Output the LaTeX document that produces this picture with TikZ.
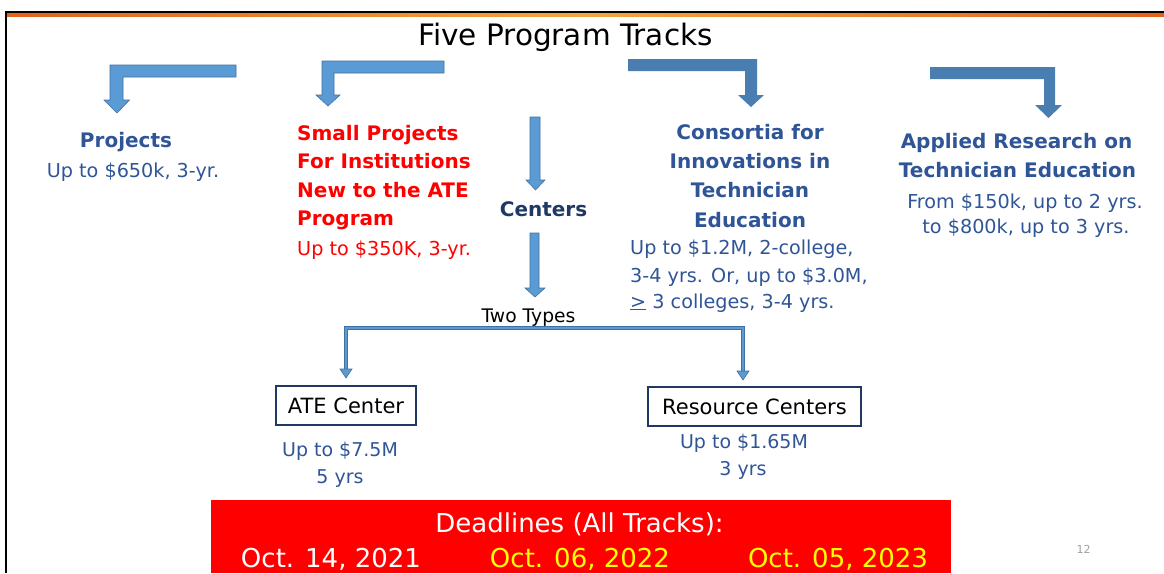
\documentclass[tikz,border=0pt]{standalone}
\usepackage{fontspec}
\setmainfont{DejaVu Sans}
\definecolor{hdrblue}{HTML}{2F5597}
\definecolor{detblue}{HTML}{2F5597}
\definecolor{centerblue}{HTML}{1F3864}
\definecolor{arrowlight}{HTML}{5B9BD5}
\definecolor{arrowedge}{HTML}{41719C}
\definecolor{arrowdark}{HTML}{4A7EB0}
\definecolor{boxline}{HTML}{1F3864}
\definecolor{alertred}{HTML}{FF0000}
\definecolor{dateyellow}{HTML}{FFFF00}
\definecolor{rulered}{HTML}{E2621B}
\definecolor{ruleglow}{HTML}{F4A640}
\definecolor{pagegray}{HTML}{A0A0A0}
\tikzset{
  lbl/.style={inner sep=0pt, anchor=base},
  titletext/.style={lbl, font=\fontsize{29.5}{34}\selectfont, text=black},
  hdr/.style={lbl, font=\bfseries\fontsize{20}{24}\selectfont, text=hdrblue},
  det/.style={lbl, font=\fontsize{19.2}{23}\selectfont, text=detblue},
  sub/.style={lbl, font=\fontsize{19}{23}\selectfont, text=detblue},
  boxed/.style={draw=boxline, line width=2pt, inner sep=0pt, fill=white,
                font=\fontsize{21}{25}\selectfont, text=black},
  lightarrow/.style={fill=arrowlight, draw=arrowedge, line width=0.6pt, line join=miter},
  darkarrow/.style={fill=arrowdark},
  brk/.style={draw=arrowedge, line width=0.8pt, double=arrowlight, double distance=2.6pt},
  brkhead/.style={fill=arrowlight, draw=arrowedge, line width=0.6pt},
  datetext/.style={lbl, font=\fontsize{26}{30}\selectfont}
}
\begin{document}
\begin{tikzpicture}[x=1pt,y=-1pt]
\useasboundingbox (0,0) rectangle (1164,573);
\fill[white] (0,0) rectangle (1164,573);

% slide frame: top rule with orange band, left edge
\fill[black] (5,11) rectangle (1164,13.3);
\shade[left color=rulered, right color=rulered, middle color=ruleglow] (5,13.5) rectangle (1164,16.8);
\fill[black] (4.5,11) rectangle (7,573);

% title
\node[titletext] (title) at (565.5,45) {Five Program Tracks};

% bent block arrows from the title to each track
\draw[lightarrow] (236,65) -- (110,65) -- (110,100) -- (104,100) -- (117,113)
  -- (129.5,100) -- (123,100) -- (123,77) -- (236,77) -- cycle;
\draw[lightarrow] (444,61) -- (322,61) -- (322,95) -- (316,95) -- (328,106)
  -- (340,95) -- (334,95) -- (334,73) -- (444,73) -- cycle;
\fill[darkarrow] (628,59) -- (757,59) -- (757,95) -- (764,95) -- (751,107)
  -- (738,95) -- (745,95) -- (745,71) -- (628,71) -- cycle;
\fill[darkarrow] (930,67) -- (1055,67) -- (1055,105) -- (1062,105) -- (1048.5,118)
  -- (1035,105) -- (1044,105) -- (1044,79) -- (930,79) -- cycle;

% down arrows around "Centers"
\draw[lightarrow] (530,117) -- (540,117) -- (540,180) -- (545,180) -- (535.5,190)
  -- (526,180) -- (530,180) -- cycle;
\draw[lightarrow] (530,233) -- (539,233) -- (539,288) -- (545,288) -- (535,297)
  -- (525,288) -- (530,288) -- cycle;

% Projects
\node[hdr] (proj) at (126,147) {Projects};
\node[det] (projd) at (133,177) {Up to \$650k, 3-yr.};

% Small Projects for Institutions New to the ATE Program
\node[hdr, text=alertred, anchor=base west] (sp1) at (297,140) {Small Projects};
\node[hdr, text=alertred, anchor=base west] (sp2) at (297,168.5) {For Institutions};
\node[hdr, text=alertred, anchor=base west] (sp3) at (297,197) {New to the ATE};
\node[hdr, text=alertred, anchor=base west] (sp4) at (297,225.5) {Program};
\node[det, text=alertred, anchor=base west] (spd) at (297,255) {Up to \$350K, 3-yr.};

% Centers
\node[hdr, text=centerblue] (centers) at (543.5,216) {Centers};

% Consortia
\node[hdr] (co1) at (750,139) {Consortia for};
\node[hdr] (co2) at (750,168) {Innovations in};
\node[hdr] (co3) at (750,197.5) {Technician};
\node[hdr] (co4) at (750,227) {Education};
\node[det, anchor=base west] (cod1) at (630,254) {Up to \$1.2M, 2-college,};
\node[det, anchor=base west] (cod2) at (630,282) {3-4 yrs. Or, up to \$3.0M,};
\node[det, anchor=base west] (cod3) at (630,308) {\underline{>} 3 colleges, 3-4 yrs.};

% Applied Research on Technician Education
\node[hdr] (ar1) at (1016.5,148) {Applied Research on};
\node[hdr] (ar2) at (1017.5,177) {Technician Education};
\node[det] (ard1) at (1025,208) {From \$150k, up to 2 yrs.};
\node[det] (ard2) at (1026,233) {to \$800k, up to 3 yrs.};

% two kinds of centers
\node[lbl, font=\fontsize{18.7}{22}\selectfont, text=black] (types) at (528.5,322) {Two Types};
\node[boxed, minimum width=140pt, minimum height=39pt] (ate) at (346,405.5) {ATE Center};
\node[boxed, minimum width=213pt, minimum height=39pt] (res) at (754.5,406.5) {Resource Centers};

\coordinate (forkL) at (346,328);
\coordinate (forkR) at (743,328);
\coordinate (tipR) at (743,372);
\draw[brk] ([yshift=15pt]ate.north) -- (forkL) -- (forkR) -- (tipR);
\draw[brkhead] ([yshift=7pt]ate.north) -- ++(-6,-9) -- ++(12,0) -- cycle;
\draw[brkhead] ([yshift=-8pt]tipR) -- ++(-6,-9) -- ++(12,0) -- cycle;

\node[sub] (ated1) at (340,456) {Up to \$7.5M};
\node[sub] (ated2) at (340,483) {5 yrs};
\node[sub] (resd1) at (744,448) {Up to \$1.65M};
\node[sub] (resd2) at (743,475) {3 yrs};

% deadlines banner
\fill[alertred] (211,500) rectangle (951,573);
\node[datetext, text=white] (dl) at (579.5,532) {Deadlines (All Tracks):};
\node[datetext, text=white] (d1) at (331,567) {Oct. 14, 2021};
\node[datetext, text=dateyellow] (d2) at (580,567) {Oct. 06, 2022};
\node[datetext, text=dateyellow] (d3) at (838,567) {Oct. 05, 2023};

% slide number
\node[lbl, font=\fontsize{11}{13}\selectfont, text=pagegray] (pg) at (1083.5,553) {12};
\end{tikzpicture}
\end{document}
